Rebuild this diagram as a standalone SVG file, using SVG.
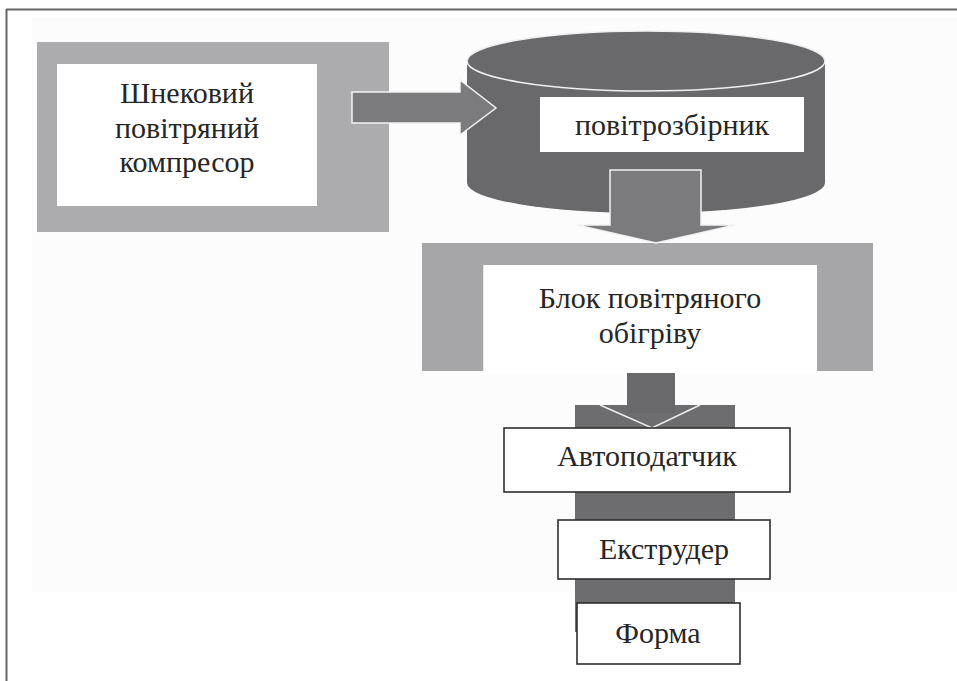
<svg xmlns="http://www.w3.org/2000/svg" width="957" height="681" viewBox="0 0 957 681">
<style>
.t{font-family:"Liberation Serif","Times New Roman",serif;font-size:30px;fill:#262626;text-anchor:middle}
.box{fill:#ffffff;stroke:#2e2e2e;stroke-width:1.6}
.arrow{fill:#7b7b7e;stroke:#f2f2f2;stroke-width:1.5;stroke-linejoin:miter}
</style>
<rect x="0" y="0" width="957" height="681" fill="#ffffff"/>
<rect x="32" y="17" width="925" height="575" fill="#fcfcfc"/>
<g id="frame">
<line x1="6.5" y1="9" x2="6.5" y2="681" stroke="#666" stroke-width="2"/>
<line x1="6" y1="9.5" x2="957" y2="9.5" stroke="#666" stroke-width="2"/>
</g>
<g id="compressor">
<rect x="37" y="42" width="352" height="190" fill="#acacae"/>
<rect x="57" y="64" width="260" height="142" fill="#ffffff"/>
<text class="t" x="187" y="103">Шнековий</text>
<text class="t" x="187" y="138">повітряний</text>
<text class="t" x="187" y="172">компресор</text>
</g>
<g id="receiver">
<path d="M467,61 L467,183 A179,30 0 0 0 825,183 L825,61 Z" fill="#69696b"/>
<ellipse cx="646" cy="61" rx="179" ry="30" fill="#69696b" stroke="#f0f0f0" stroke-width="1.5"/>
<rect x="540" y="97" width="264" height="55" fill="#ffffff"/>
<text class="t" x="672" y="135">повітрозбірник</text>
</g>
<g id="heater">
<path d="M422,243 H873 V371 H817 V265 H483.5 V371 H422 Z" fill="#a6a6a8"/>
<rect x="483.5" y="265" width="333.5" height="110" fill="#ffffff"/>
<text class="t" x="650" y="308">Блок повітряного</text>
<text class="t" x="650" y="343">обігріву</text>
</g>
<g id="connectors">
<path class="arrow" d="M352,92 H460 V80 L496,108 L460,135 V123 H352 Z"/>
<path class="arrow" d="M610,170 H701 V225 H735 L656,243 L577,225 H610 Z"/>
<rect x="575" y="405" width="160" height="227" fill="#6d6d6f"/>
<rect x="627" y="373" width="48" height="40" fill="#69696b"/>
<polyline points="600,405 652,428 700,405" fill="none" stroke="#eeeeee" stroke-width="1.5"/>
</g>
<g id="autofeeder">
<rect class="box" x="504" y="428" width="286" height="64"/>
<text class="t" x="647" y="466">Автоподатчик</text>
</g>
<g id="extruder">
<rect class="box" x="558" y="520" width="212" height="59"/>
<text class="t" x="664" y="559">Екструдер</text>
</g>
<g id="mould">
<rect class="box" x="577" y="603" width="163" height="61"/>
<text class="t" x="658" y="643">Форма</text>
</g>
</svg>
